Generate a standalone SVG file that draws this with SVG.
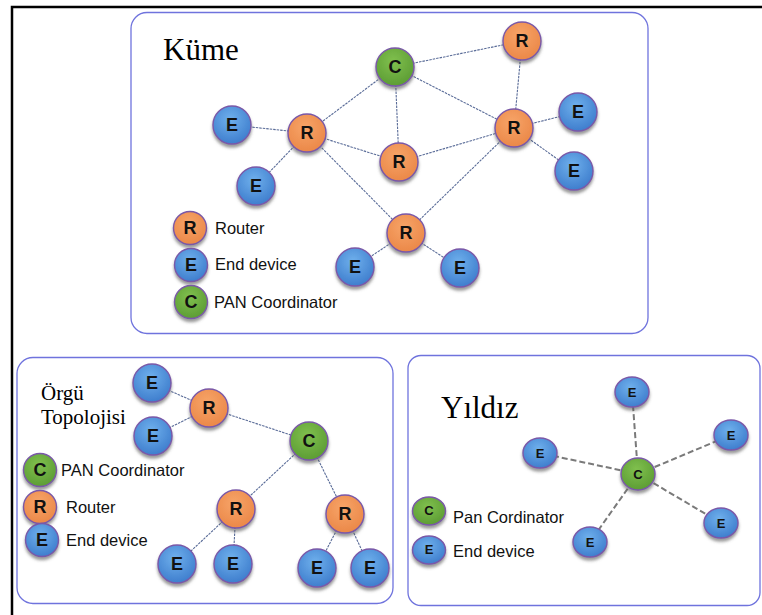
<svg xmlns="http://www.w3.org/2000/svg" width="762" height="615" viewBox="0 0 762 615">
<defs>
  <radialGradient id="gB" cx="45%" cy="35%" r="70%"><stop offset="0" stop-color="#6fb0ec"/><stop offset="1" stop-color="#3b7acb"/></radialGradient>
  <radialGradient id="gR" cx="45%" cy="35%" r="70%"><stop offset="0" stop-color="#f7a468"/><stop offset="1" stop-color="#ea8646"/></radialGradient>
  <radialGradient id="gG" cx="45%" cy="35%" r="70%"><stop offset="0" stop-color="#80c04e"/><stop offset="1" stop-color="#5a9a32"/></radialGradient>
  <filter id="sh" x="-30%" y="-30%" width="160%" height="170%">
    <feDropShadow dx="0" dy="3" stdDeviation="1.6" flood-color="#555" flood-opacity="0.6"/>
  </filter>
</defs>
<style>
  .panel{fill:#fff;stroke:#6f73dd;stroke-width:1.3}
  .frame{stroke:#000;stroke-width:2.5;fill:none}
  .n{stroke:#7a58a8;stroke-width:1.4;filter:url(#sh)}
  .E{fill:url(#gB)} .R{fill:url(#gR)} .C{fill:url(#gG)}
  .lt{font-family:"Liberation Sans",Arial,sans-serif;font-weight:bold;font-size:18px;fill:#111;text-anchor:middle;dominant-baseline:central}
  .ls{font-family:"Liberation Sans",Arial,sans-serif;font-weight:bold;font-size:13px;fill:#111;text-anchor:middle;dominant-baseline:central}
  .lg{font-family:"Liberation Sans",Arial,sans-serif;font-size:16.5px;fill:#111;dominant-baseline:central}
  .title{font-family:"Liberation Serif","Times New Roman",serif;fill:#000}
  .e1{stroke:#5a6c98;stroke-width:1.1;stroke-dasharray:2.5 1;fill:none}
  .e2{stroke:#7a7a7a;stroke-width:2;stroke-dasharray:6 3;fill:none}
</style>
<rect width="762" height="615" fill="#fff"/>
<path class="frame" d="M12 615 V7 H762"/>

<rect class="panel" x="131" y="12.5" width="517" height="321" rx="16"/>
<rect class="panel" x="17" y="357.5" width="376" height="246" rx="16"/>
<rect class="panel" x="408" y="355.5" width="352" height="250" rx="13"/>

<text class="title" x="163" y="60" font-size="31">Küme</text>
<text class="title" x="41" y="400" font-size="21">Örgü</text>
<text class="title" x="41" y="424" font-size="21">Topolojisi</text>
<text class="title" x="441" y="418" font-size="31">Yıldız</text>

<g id="connectors">
  <line class="e1" x1="395" y1="67" x2="522" y2="41"/>
  <line class="e1" x1="395" y1="67" x2="307" y2="133"/>
  <line class="e1" x1="395" y1="67" x2="399" y2="162"/>
  <line class="e1" x1="395" y1="67" x2="514" y2="128"/>
  <line class="e1" x1="522" y1="41" x2="514" y2="128"/>
  <line class="e1" x1="307" y1="133" x2="232" y2="125"/>
  <line class="e1" x1="307" y1="133" x2="256" y2="186"/>
  <line class="e1" x1="307" y1="133" x2="399" y2="162"/>
  <line class="e1" x1="307" y1="133" x2="406" y2="233"/>
  <line class="e1" x1="399" y1="162" x2="514" y2="128"/>
  <line class="e1" x1="514" y1="128" x2="578" y2="112"/>
  <line class="e1" x1="514" y1="128" x2="574" y2="171"/>
  <line class="e1" x1="514" y1="128" x2="406" y2="233"/>
  <line class="e1" x1="406" y1="233" x2="355" y2="267"/>
  <line class="e1" x1="406" y1="233" x2="460" y2="268"/>

  <line class="e1" x1="152" y1="383" x2="209" y2="408"/>
  <line class="e1" x1="153" y1="436" x2="209" y2="408"/>
  <line class="e1" x1="209" y1="408" x2="309" y2="441"/>
  <line class="e1" x1="309" y1="441" x2="236" y2="509"/>
  <line class="e1" x1="309" y1="441" x2="345" y2="514"/>
  <line class="e1" x1="236" y1="509" x2="177" y2="564"/>
  <line class="e1" x1="236" y1="509" x2="233" y2="564"/>
  <line class="e1" x1="345" y1="514" x2="317" y2="568"/>
  <line class="e1" x1="345" y1="514" x2="370" y2="568"/>

  <line class="e2" x1="638" y1="474" x2="632" y2="392"/>
  <line class="e2" x1="638" y1="474" x2="731" y2="435"/>
  <line class="e2" x1="638" y1="474" x2="540" y2="453"/>
  <line class="e2" x1="638" y1="474" x2="721" y2="523"/>
  <line class="e2" x1="638" y1="474" x2="590" y2="542"/>
</g>

<!-- Küme nodes -->
<g id="k-c"><circle class="n C" cx="395" cy="67" r="19"/><text class="lt" x="395" y="67">C</text></g>
<g id="k-r1"><circle class="n R" cx="522" cy="41" r="19"/><text class="lt" x="522" y="41">R</text></g>
<g id="k-r2"><circle class="n R" cx="307" cy="133" r="19"/><text class="lt" x="307" y="133">R</text></g>
<g id="k-r3"><circle class="n R" cx="399" cy="162" r="19"/><text class="lt" x="399" y="162">R</text></g>
<g id="k-r4"><circle class="n R" cx="514" cy="128" r="19"/><text class="lt" x="514" y="128">R</text></g>
<g id="k-r5"><circle class="n R" cx="406" cy="233" r="19"/><text class="lt" x="406" y="233">R</text></g>
<g id="k-e1"><circle class="n E" cx="232" cy="125" r="19"/><text class="lt" x="232" y="125">E</text></g>
<g id="k-e2"><circle class="n E" cx="256" cy="186" r="19"/><text class="lt" x="256" y="186">E</text></g>
<g id="k-e3"><circle class="n E" cx="578" cy="112" r="19"/><text class="lt" x="578" y="112">E</text></g>
<g id="k-e4"><circle class="n E" cx="574" cy="171" r="19"/><text class="lt" x="574" y="171">E</text></g>
<g id="k-e5"><circle class="n E" cx="355" cy="267" r="19"/><text class="lt" x="355" y="267">E</text></g>
<g id="k-e6"><circle class="n E" cx="460" cy="268" r="19"/><text class="lt" x="460" y="268">E</text></g>
<g id="k-legend">
  <circle class="n R" cx="190" cy="228" r="16.5"/><text class="lt" x="190" y="228" font-size="16">R</text><text class="lg" x="215" y="228" font-size="17">Router</text>
  <circle class="n E" cx="191" cy="265" r="16.5"/><text class="lt" x="191" y="265" font-size="16">E</text><text class="lg" x="215" y="264" font-size="17">End device</text>
  <circle class="n C" cx="191" cy="302" r="16.5"/><text class="lt" x="191" y="302" font-size="16">C</text><text class="lg" x="214" y="302" font-size="17">PAN Coordinator</text>
</g>

<!-- Örgü nodes -->
<g id="o-e1"><circle class="n E" cx="152" cy="383" r="19"/><text class="lt" x="152" y="383">E</text></g>
<g id="o-r1"><circle class="n R" cx="209" cy="408" r="19"/><text class="lt" x="209" y="408">R</text></g>
<g id="o-e2"><circle class="n E" cx="153" cy="436" r="19"/><text class="lt" x="153" y="436">E</text></g>
<g id="o-c"><circle class="n C" cx="309" cy="441" r="19"/><text class="lt" x="309" y="441">C</text></g>
<g id="o-r2"><circle class="n R" cx="236" cy="509" r="19"/><text class="lt" x="236" y="509">R</text></g>
<g id="o-r3"><circle class="n R" cx="345" cy="514" r="19"/><text class="lt" x="345" y="514">R</text></g>
<g id="o-e3"><circle class="n E" cx="177" cy="564" r="19"/><text class="lt" x="177" y="564">E</text></g>
<g id="o-e4"><circle class="n E" cx="233" cy="564" r="19"/><text class="lt" x="233" y="564">E</text></g>
<g id="o-e5"><circle class="n E" cx="317" cy="568" r="19"/><text class="lt" x="317" y="568">E</text></g>
<g id="o-e6"><circle class="n E" cx="370" cy="568" r="19"/><text class="lt" x="370" y="568">E</text></g>
<g id="o-legend">
  <circle class="n C" cx="40" cy="470" r="16.5"/><text class="lt" x="40" y="470" font-size="16">C</text><text class="lg" x="61" y="470" font-size="17">PAN Coordinator</text>
  <circle class="n R" cx="40" cy="507" r="16.5"/><text class="lt" x="40" y="507" font-size="16">R</text><text class="lg" x="66" y="507" font-size="17">Router</text>
  <circle class="n E" cx="42" cy="540" r="16.5"/><text class="lt" x="42" y="540" font-size="16">E</text><text class="lg" x="66" y="540" font-size="17">End device</text>
</g>

<!-- Yıldız nodes -->
<g id="y-c"><ellipse class="n C" cx="638" cy="474" rx="17" ry="16"/><text class="ls" x="638" y="474">C</text></g>
<g id="y-e1"><ellipse class="n E" cx="632" cy="392" rx="17" ry="15"/><text class="ls" x="632" y="392">E</text></g>
<g id="y-e2"><ellipse class="n E" cx="731" cy="435" rx="17" ry="15"/><text class="ls" x="731" y="435">E</text></g>
<g id="y-e3"><ellipse class="n E" cx="540" cy="453" rx="17" ry="15"/><text class="ls" x="540" y="453">E</text></g>
<g id="y-e4"><ellipse class="n E" cx="721" cy="523" rx="17" ry="15"/><text class="ls" x="721" y="523">E</text></g>
<g id="y-e5"><ellipse class="n E" cx="590" cy="542" rx="17" ry="15"/><text class="ls" x="590" y="542">E</text></g>
<g id="y-legend">
  <ellipse class="n C" cx="429" cy="511" rx="16.5" ry="14"/><text class="ls" x="429" y="510">C</text><text class="lg" x="453" y="517">Pan Cordinator</text>
  <ellipse class="n E" cx="429" cy="550" rx="16.5" ry="14"/><text class="ls" x="429" y="549">E</text><text class="lg" x="453" y="551">End device</text>
</g>
</svg>
